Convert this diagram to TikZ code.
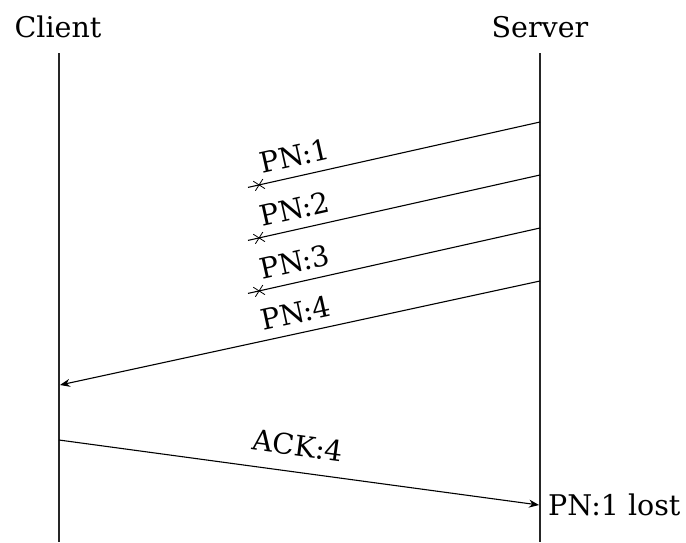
\documentclass[tikz,border=0pt]{standalone}
\usepackage{fontspec}
\setmainfont{DejaVu Serif}
\usetikzlibrary{arrows.meta,shapes.misc}
\begin{document}
\begin{tikzpicture}[x=1pt,y=-1pt,
  every node/.style={font=\fontsize{28.5}{32}\selectfont},
  lifeline/.style={draw=black!85, line width=1.1pt},
  msg/.style={draw=black, line width=1.1pt},
  msgarrow/.style={msg, -{Stealth[length=10pt,width=8pt]}},
  lbl/.style={sloped, above=8pt, inner sep=1pt},
  lostmark/.style={cross out, draw=black, line width=0.8pt, minimum size=9pt, inner sep=0pt, sloped}
]
\useasboundingbox (0,0) rectangle (686,542);

% participants
\node[anchor=base] (client) at (58,37) {Client};
\node[anchor=base] (server) at (540,37) {Server};

% lifelines
\coordinate (ctop) at (59,53);
\coordinate (cbot) at (59,542);
\coordinate (stop) at (540,53);
\coordinate (sbot) at (540,542);
\draw[lifeline] (ctop) -- (cbot);
\draw[lifeline] (stop) -- (sbot);

% packets sent by the server
\coordinate (s1) at (540,122);
\coordinate (l1) at (248,187.4);
\coordinate (s2) at (540,175);
\coordinate (l2) at (248,240.4);
\coordinate (s3) at (540,228);
\coordinate (l3) at (248,293.4);
\coordinate (s4) at (540,281);
\coordinate (c4) at (60,385);

\draw[msg] (s1) -- node[lbl, pos=0.825] (pn1) {PN:1} node[lostmark, pos=0.962] (x1) {} (l1);
\draw[msg] (s2) -- node[lbl, pos=0.825] (pn2) {PN:2} node[lostmark, pos=0.962] (x2) {} (l2);
\draw[msg] (s3) -- node[lbl, pos=0.825] (pn3) {PN:3} node[lostmark, pos=0.962] (x3) {} (l3);
\draw[msgarrow] (s4) -- node[lbl, pos=0.50] (pn4) {PN:4} (c4);

% acknowledgement back to the server
\coordinate (c5) at (59,440);
\coordinate (s5) at (539,505);
\draw[msgarrow] (c5) -- node[lbl, above=6pt, pos=0.49] (ack) {ACK:4} (s5);
\node[anchor=base west, inner sep=0pt] (lost) at (548,515) {PN:1 lost};
\end{tikzpicture}
\end{document}
